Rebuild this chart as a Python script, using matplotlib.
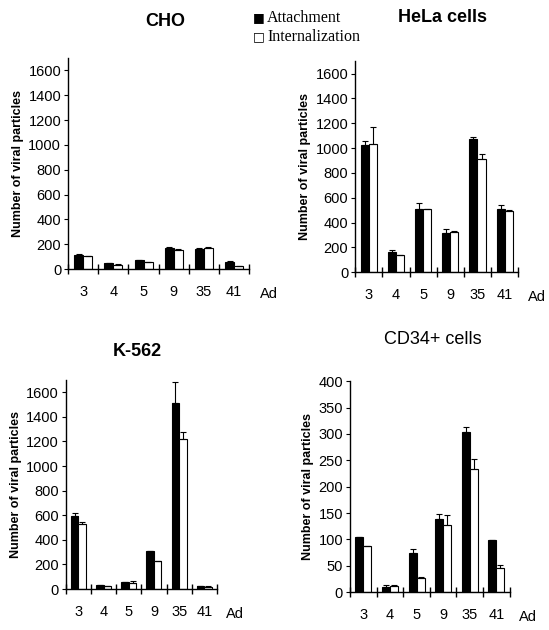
import matplotlib
matplotlib.use("Agg")
import matplotlib.pyplot as plt
import numpy as np

plt.rcParams['font.family'] = ['Liberation Sans', 'DejaVu Sans']

serotypes = ['3', '4', '5', '9', '35', '41']

cho_att = [115, 45, 70, 170, 165, 60]
cho_att_err = [5, 3, 4, 5, 4, 3]
cho_int = [105, 35, 55, 155, 170, 25]
cho_int_err = [3, 3, 3, 4, 5, 2]

hela_att = [1025, 165, 510, 315, 1075, 510]
hela_att_err = [30, 10, 45, 35, 15, 30]
hela_int = [1035, 135, 505, 325, 910, 495]
hela_int_err = [135, 3, 3, 3, 40, 3]

k562_att = [590, 30, 55, 310, 1510, 25]
k562_att_err = [30, 3, 3, 3, 175, 2]
k562_int = [530, 25, 50, 225, 1220, 20]
k562_int_err = [15, 2, 15, 3, 60, 2]

cd34_att = [104, 10, 75, 138, 303, 98]
cd34_att_err = [1, 3, 7, 11, 10, 1]
cd34_int = [87, 12, 27, 127, 233, 45]
cd34_int_err = [1, 2, 1, 20, 20, 7]

fig = plt.figure(figsize=(5.49, 6.30), dpi=100)


def panel(rect, title, att, att_err, inte, inte_err, ymax, yticks, title_xy, title_weight='bold'):
    ax = fig.add_axes(rect)
    x = np.arange(len(serotypes))
    w = 0.3
    ax.bar(x - w / 2, att, w, color='black', edgecolor='black', linewidth=0.8,
           yerr=[np.zeros(len(att)), att_err], error_kw=dict(ecolor='black', elinewidth=0.8, capsize=2.5, capthick=0.8))
    ax.bar(x + w / 2, inte, w, color='white', edgecolor='black', linewidth=0.8,
           yerr=[np.zeros(len(inte)), inte_err], error_kw=dict(ecolor='black', elinewidth=0.8, capsize=2.5, capthick=0.8))
    ax.set_xlim(-0.5, 5.5)
    ax.set_ylim(0, ymax)
    ax.set_yticks(yticks)
    ax.tick_params(axis='y', labelsize=10.5, length=3, width=0.8, direction='out', pad=2)
    ax.set_xticks(np.arange(-0.5, 6, 1))
    ax.set_xticklabels([])
    ax.tick_params(axis='x', length=7, width=1, direction='inout')
    for i, s in enumerate(serotypes):
        ax.text(i, -0.075, s, transform=ax.get_xaxis_transform(), ha='center', va='top', fontsize=10.5)
    ax.text(1.06, -0.085, 'Ad', transform=ax.transAxes, ha='left', va='top', fontsize=10.5)
    for sp in ['top', 'right']:
        ax.spines[sp].set_visible(False)
    ax.spines['left'].set_linewidth(1)
    ax.spines['bottom'].set_linewidth(1)
    ax.set_ylabel('Number of viral particles', fontsize=9, fontweight='bold', labelpad=3)
    fig.text(title_xy[0], title_xy[1], title, ha='center', va='center', fontsize=13, fontweight=title_weight)
    return ax


panel([0.124, 0.573, 0.330, 0.335], 'CHO', cho_att, cho_att_err, cho_int, cho_int_err,
      1700, range(0, 1601, 200), (165 / 549, 1 - 22 / 630))
panel([0.647, 0.568, 0.297, 0.335], 'HeLa cells', hela_att, hela_att_err, hela_int, hela_int_err,
      1700, range(0, 1601, 200), (443 / 549, 1 - 18 / 630))
panel([0.120, 0.065, 0.275, 0.332], 'K-562', k562_att, k562_att_err, k562_int, k562_int_err,
      1700, range(0, 1601, 200), (137 / 549, 1 - 352 / 630))
panel([0.6375, 0.060, 0.291, 0.335], 'CD34+ cells', cd34_att, cd34_att_err, cd34_int, cd34_int_err,
      400, range(0, 401, 50), (433 / 549, 1 - 340 / 630), title_weight='normal')

# legend as text with square markers
fig.text(253 / 549, 1 - 18 / 630, '\u25A0', ha='left', va='center', fontsize=9, family=['DejaVu Sans'])
fig.text(267 / 549, 1 - 18 / 630, 'Attachment', ha='left', va='center', fontsize=11.5, family=['Liberation Serif'])
fig.text(253 / 549, 1 - 37 / 630, '\u25A1', ha='left', va='center', fontsize=9, family=['DejaVu Sans'])
fig.text(267 / 549, 1 - 37 / 630, 'Internalization', ha='left', va='center', fontsize=11.5, family=['Liberation Serif'])

fig.savefig('out.png', dpi=100)
